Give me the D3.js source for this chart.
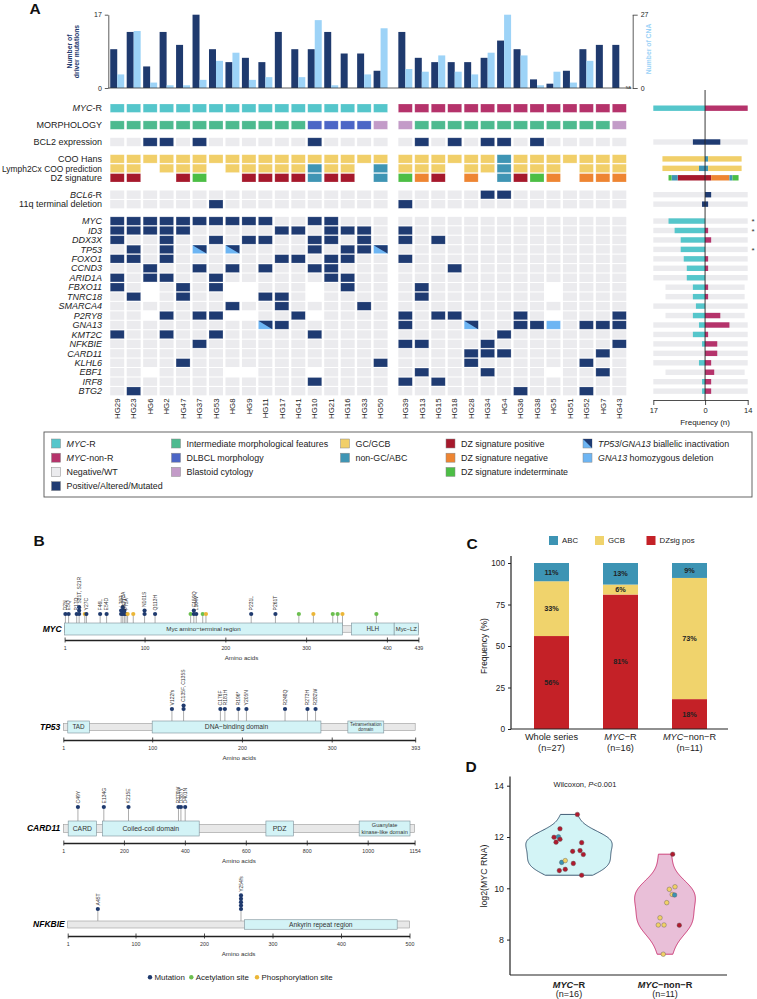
<!DOCTYPE html>
<html><head><meta charset="utf-8">
<script src="https://cdn.jsdelivr.net/npm/d3@7"></script>
<style>body{margin:0;background:#fff}svg{font-family:"Liberation Sans",Arial,Helvetica,sans-serif}</style>
</head><body><svg id="c" width="757" height="999"></svg>
<script>
// ================= DATA =================
const samplesMycR = ["HG29","HG23","HG6","HG2","HG47","HG37","HG53","HG8","HG9","HG11","HG17","HG41","HG10","HG21","HG16","HG33","HG50"];
const samplesMycNonR = ["HG39","HG13","HG15","HG18","HG28","HG34","HG4","HG36","HG38","HG5","HG51","HG52","HG7","HG43"];
const driverMutMycR = [9,13,5,13,10,17,9,6,7,6,13,9,9,13,8,8,4];
const cnaMycR = [5,21,2,1,1,3,10,13,3,4,0,4,25,1,0,5,22];
const driverMutMycNonR = [13,7,6,6,6,7,11,9,2,1,4,9,10,10];
const cnaMycNonR = [7,6,12,6,5,13,27,12,1,6,2,10,0,null];
const driverTicks = [0,17];
const cnaTicks = [0,27];

const rowLabels = ["*MYC*-R","MORPHOLOGY","BCL2 expression","COO Hans","Lymph2Cx COO prediction","DZ signature","*BCL6*-R","11q terminal deletion",
 "*MYC*","*ID3*","*DDX3X*","*TP53*","*FOXO1*","*CCND3*","*ARID1A*","*FBXO11*","*TNRC18*","*SMARCA4*","*P2RY8*","*GNA13*","*KMT2C*","*NFKBIE*","*CARD11*","*KLHL6*","*EBF1*","*IRF8*","*BTG2*"];
const rowBlocks = [0,1,2,3,3,3,4,4,5,5,5,5,5,5,5,5,5,5,5,5,5,5,5,5,5,5,5];
// codes: left group (MYC-R) | right group (MYC-non-R)
const rowCodes = [
 "RRRRRRRRRRRRRRRRR|NNNNNNNNNNNNNN",
 "IIIIIIIIIIIIDDDDB|BIIIIIIIIIIIIB",
 "00110100000010000|01010110100000",
 "GGGGGGGGGGGGGGGGG|GGGGGGAGGGGGGG",
 "GG-GGG-GGGGGAGG-A|GGG-GGAGGG-GGG",
 "PP--PZ--PPPPAPP-A|ZOP-O-APZO-OOO",
 "00000000000000000|00000110000000",
 "00000010000000000|10000000000000",
 "11111111110011000|00000000000000",
 "11111000001101110|10000000000000",
 "10010010110011010|10100000000000",
 "01010b0b00001011b|00000000000000",
 "11010000001101100|10000000000000",
 "00100101010011000|00010000000000",
 "10110010000001100|00000000000000",
 "10-0101--000-0100|010000000-0000",
 "01-0100--110-0000|010000000-0000",
 "00000001001000010|00000000000000",
 "00-1011--001-0000|101100010-0001",
 "000000000b1000000|1000b0011h0111",
 "10010010000010000|00000010000000",
 "00000100000000000|11000100000001",
 "00000000000000000|00001110000010",
 "00001000000000001|00001000000100",
 "00-0000--000-0000|010001000-0010",
 "00000000000010000|10100000000000",
 "01000000000000000|00000001000100"
];
const freqRowsNoBar = ["MORPHOLOGY"];
const catFreq = [
 ["COO Hans","L","G",14],["COO Hans","R","A",1],["COO Hans","R","G",11],
 ["Lymph2Cx COO prediction","L","A",2],["Lymph2Cx COO prediction","L","G",12],
 ["Lymph2Cx COO prediction","R","A",1],["Lymph2Cx COO prediction","R","G",11],
 ["DZ signature","L","P",9],["DZ signature","L","A",2],["DZ signature","L","Z",1],
 ["DZ signature","R","P",2],["DZ signature","R","O",6],["DZ signature","R","A",1],["DZ signature","R","Z",2]
];
const significantGenes = ["*MYC*","*ID3*","*TP53*"];
const freqTicks = [-17,0,14];

const legendLabels = ["*MYC*-R","*MYC*-non-R","Negative/WT","Positive/Altered/Mutated",
 "Intermediate morphological features","DLBCL morphology","Blastoid cytology",
 "GC/GCB","non-GC/ABC",
 "DZ signature positive","DZ signature negative","DZ signature indeterminate",
 "*TP53*/*GNA13* biallelic inactivation","*GNA13* homozygous deletion"];
const legendCodes = ["R","N","0","1","I","D","B","G","A","P","O","Z","b","h"];
const legendCols = [0,0,0,0,1,1,1,2,2,3,3,3,4,4];
const legendRowsIdx = [0,1,2,3,0,1,2,0,1,0,1,2,0,1];

// Panel B
const proteinNames = ["MYC","TP53","CARD11","NFKBIE"];
const proteinLengths = [439,393,1154,500];
const proteinTicks = [[1,100,200,300,400,439],[1,100,200,300,393],[1,200,400,600,800,1000,1154],[1,100,200,300,400,500]];
const domainList = [
 ["MYC",1,345,"Myc amino\u2212terminal region"],["MYC",356,409,"HLH"],["MYC",409,439,"Myc\u2212LZ"],
 ["TP53",6,30,"TAD"],["TP53",100,288,"DNA\u2212binding domain"],["TP53",318,358,"Tetramerisation|domain"],
 ["CARD11",17,110,"CARD"],["CARD11",129,447,"Coiled-coil domain"],["CARD11",666,756,"PDZ"],["CARD11",972,1139,"Guanylate|kinase-like domain"],
 ["NFKBIE",259,482,"Ankyrin repeat region"]
];
// [protein, aa, kind, label, count]
const lollipops = [
 ["MYC",2,"mut","D2N",1],["MYC",6,"mut","E5Q",1],["MYC",16,"mut","P17Q",1],["MYC",19,"mut","S21T, S21R",3],
 ["MYC",26,"phos","",1],["MYC",28,"mut","Y27C",1],["MYC",45,"mut","F46L",1],["MYC",53,"mut","E54D",1],
 ["MYC",71,"mut","L70P",2],["MYC",73,"mut","T73A",3],["MYC",75,"mut","S71F",2],["MYC",77,"mut","P75A",1],
 ["MYC",79,"phos","",1],["MYC",86,"phos","",1],["MYC",100,"mut","N101S",2],["MYC",113,"mut","Q113H",1],
 ["MYC",157,"acet","",1],["MYC",161,"mut","E159Q",2],["MYC",164,"mut","L164V",1],["MYC",172,"acet","",1],["MYC",176,"phos","",1],
 ["MYC",232,"mut","P231L",1],["MYC",262,"mut","P261T",1],["MYC",291,"acet","",1],["MYC",309,"phos","",1],
 ["MYC",333,"acet","",1],["MYC",339,"acet","",1],["MYC",345,"phos","",1],["MYC",387,"acet","",1],
 ["TP53",122,"mut","V122fs",1],["TP53",135,"mut","C135F, C135S",2],["TP53",176,"mut","C176F",1],["TP53",181,"mut","R181H",1],
 ["TP53",196,"mut","R196*",1],["TP53",205,"mut","Y205N",1],["TP53",248,"mut","R248Q",1],["TP53",273,"mut","R273H",1],["TP53",282,"mut","R282W",1],
 ["CARD11",49,"mut","C49Y",1],["CARD11",134,"mut","E134G",1],["CARD11",215,"mut","K215E",1],["CARD11",379,"mut","R379W",1],["CARD11",387,"mut","D387Y",1],["CARD11",401,"mut","D401N",1],
 ["NFKBIE",45,"mut","A45T",1],["NFKBIE",254,"mut","Y254fs",5]
];
const lolliLegend = [["mut","Mutation"],["acet","Acetylation site"],["phos","Phosphorylation site"]];

// Panel C
const cGroups = ["Whole series","*MYC*\u2212R","*MYC*\u2212non\u2212R"];
const cN = [27,16,11];
const cDZpos = [56,81,18];
const cGCB = [33,6,73];
const cABC = [11,13,9];
const cTicks = [0,25,50,75,100];

// Panel D
const dGroups = ["MYC-R","MYC-non-R"];
const dN = [16,11];
const dValuesR = [11.99,12.01,11.80,11.91,11.78,12.32,12.88,11.44,11.47,11.32,11.01,11.08,10.97,10.69,10.74,10.51];
const dCatR    = ["P","A","P","P","P","P","P","P","P","P","A","G","P","P","P","P"];
const dJitterR = [-0.156,-0.11,-0.135,-0.094,0.132,-0.094,0.087,0.038,0.115,0.149,-0.076,-0.039,0.045,-0.101,-0.039,0.132];
const dValuesN = [11.33,10.06,9.96,9.76,9.74,9.44,8.85,8.57,8.57,8.56,7.43];
const dCatN    = ["P","G","G","G","A","G","G","G","G","P","G"];
const dJitterN = [0.08,0.104,0.045,0.075,0.1,0.018,-0.052,-0.07,-0.01,0.149,-0.018];
const dTicks = [8,10,12,14];

// ================= STYLE =================
const col = {R:"#55c6cb",N:"#b5336b",I:"#4dba8f",D:"#4c66c6",B:"#c39bc8","0":"#ebebee","1":"#1f3b72",
  G:"#f1cf69",A:"#3f95b4",P:"#a6192c",O:"#ee8532",Z:"#4cbe45",h:"#6db5f3",b:"#6db5f3"};
const navy="#1f3a6e", lightBlue="#9dd3f7";
const svg = d3.select("#c");
function rich(t, str){ str.split("*").forEach((p,i)=>{ if(p) t.append("tspan").attr("font-style", i%2? "italic":null).text(p); }); return t; }
function panelLetter(x,y,s){ svg.append("text").attr("x",x).attr("y",y).attr("font-size",15.5).attr("font-weight","bold").attr("fill","#111").text(s); }

// ================= PANEL A =================
panelLetter(29.5,13.8,"A");

const step = 16.46;
const xL = d3.scaleBand().domain(samplesMycR).range([109, 109+17*step]).paddingInner(0.15).paddingOuter(0.075);
const xR = d3.scaleBand().domain(samplesMycNonR).range([397.1, 397.1+14*step]).paddingInner(0.15).paddingOuter(0.075);
const bw = xL.bandwidth();
const yDrv = d3.scaleLinear().domain([0,17]).range([88,14.7]);
const yCna = d3.scaleLinear().domain([0,27]).range([88,14.7]);

const barG = svg.append("g");
function drawBars(samples, xs, drv, cna){
  barG.selectAll(null).data(samples).join("rect")
    .attr("x",d=>xs(d)).attr("width",bw/2).attr("y",(d,i)=>yDrv(drv[i])).attr("height",(d,i)=>yDrv(0)-yDrv(drv[i])).attr("fill",navy);
  barG.selectAll(null).data(samples.filter((d,i)=>cna[i]!=null)).join("rect")
    .attr("x",d=>xs(d)+bw/2).attr("width",bw/2).attr("y",d=>yCna(cna[samples.indexOf(d)])).attr("height",d=>yCna(0)-yCna(cna[samples.indexOf(d)])).attr("fill",lightBlue);
}
drawBars(samplesMycR,xL,driverMutMycR,cnaMycR);
drawBars(samplesMycNonR,xR,driverMutMycNonR,cnaMycNonR);
const lastS = samplesMycNonR[samplesMycNonR.length-1];
svg.append("line").attr("x1",108.3).attr("x2",xR(lastS)+bw+5).attr("y1",yDrv(0)).attr("y2",yDrv(0)).attr("stroke","#333").attr("stroke-width",0.8);
svg.append("text").attr("x",xR(lastS)+bw-0.5).attr("y",yDrv(0)+0.5).attr("font-size",3.8).attr("fill","#333").text("NA");

const axL = svg.append("g").attr("transform","translate(108.3,0)").call(d3.axisLeft(yDrv).tickValues(driverTicks).tickSize(3.5).tickSizeOuter(0));
const axR = svg.append("g").attr("transform","translate(632.7,0)").call(d3.axisRight(yCna).tickValues(cnaTicks).tickSize(5).tickSizeOuter(0));
[axL,axR].forEach(a=>{a.selectAll("text").attr("font-size",7).attr("font-family","inherit").attr("fill","#222"); a.selectAll("path,line").attr("stroke","#333").attr("stroke-width",0.8);});
const lblL = svg.append("text").attr("transform","translate(72,51.5) rotate(-90)").attr("text-anchor","middle").attr("font-size",6.8).attr("font-weight","bold").attr("fill",navy);
lblL.append("tspan").attr("x",0).attr("dy",0).text("Number of");
lblL.append("tspan").attr("x",0).attr("dy",7).text("driver mutations");
svg.append("text").attr("transform","translate(650.5,49) rotate(-90)").attr("text-anchor","middle").attr("font-size",6.8).attr("font-weight","bold").attr("fill",lightBlue).text("Number of CNA");

// rows
const yIdx = d3.scaleLinear().domain([0,1]).range([104,104+9.45]);
const yBlk = d3.scaleLinear().domain([0,1]).range([0,7.45]);
const cellH = 8.4;
const rowY = i => yIdx(i)+yBlk(rowBlocks[i]);

const cellG = svg.append("g");
rowCodes.forEach((codes,ri)=>{
  const [l,r] = codes.split("|");
  const cells = [];
  l.split("").forEach((c,j)=>cells.push({s:samplesMycR[j],x:xL(samplesMycR[j]),c}));
  r.split("").forEach((c,j)=>cells.push({s:samplesMycNonR[j],x:xR(samplesMycNonR[j]),c}));
  const y = rowY(ri);
  cells.filter(d=>d.c!=="-").forEach(d=>{
    cellG.append("rect").attr("x",d.x).attr("y",y).attr("width",bw).attr("height",cellH).attr("fill",col[d.c])
      .attr("stroke", d.c==="0"?"none":"#ffffff").attr("stroke-opacity",0.35).attr("stroke-width",0.6);
    if(d.c==="b"){
      cellG.append("path").attr("d",`M${d.x},${y}L${d.x+bw},${y}L${d.x+bw},${y+cellH}Z`).attr("fill",col["1"]);
    }
  });
  const t = svg.append("text").attr("x",102).attr("y",y+cellH/2).attr("dy","0.35em").attr("text-anchor","end").attr("font-size",9).attr("fill","#222");
  rich(t,rowLabels[ri]);
  const len = t.node().getComputedTextLength();
  if(len>100) t.attr("textLength",100).attr("lengthAdjust","spacingAndGlyphs");
});

// sample labels
const sl = svg.append("g").attr("font-size",7.8).attr("fill","#222");
samplesMycR.forEach(s=>sl.append("text").attr("transform",`translate(${xL(s)+bw/2},398.5) rotate(-90)`).attr("text-anchor","end").attr("dy","0.35em").text(s));
samplesMycNonR.forEach(s=>sl.append("text").attr("transform",`translate(${xR(s)+bw/2},398.5) rotate(-90)`).attr("text-anchor","end").attr("dy","0.35em").text(s));

// frequency panel
const fx = d3.scaleLinear().domain([-17,14]).range([653.3,747.7]);
const fh = 5.4;
const freqG = svg.append("g");
rowCodes.forEach((codes,ri)=>{
  const lab = rowLabels[ri];
  if(freqRowsNoBar.includes(lab)) return;
  const y = rowY(ri)+cellH/2-fh/2;
  const cats = catFreq.filter(d=>d[0]===lab);
  if(cats.length){
    let accL=0, accR=0;
    cats.forEach(d=>{
      if(d[1]==="L"){ freqG.append("rect").attr("x",fx(-accL-d[3])).attr("width",fx(-accL)-fx(-accL-d[3])).attr("y",y).attr("height",fh).attr("fill",col[d[2]]); accL+=d[3]; }
      else { freqG.append("rect").attr("x",fx(accR)).attr("width",fx(accR+d[3])-fx(accR)).attr("y",y).attr("height",fh).attr("fill",col[d[2]]); accR+=d[3]; }
    });
    return;
  }
  const [l,r] = codes.split("|");
  if(ri===0){
    freqG.append("rect").attr("x",fx(-l.split("").filter(c=>c==="R").length)).attr("width",fx(0)-fx(-l.length)).attr("y",y).attr("height",fh).attr("fill",col.R);
    freqG.append("rect").attr("x",fx(0)).attr("width",fx(r.split("").filter(c=>c==="N").length)-fx(0)).attr("y",y).attr("height",fh).attr("fill",col.N);
    return;
  }
  const evL = l.split("").filter(c=>c!=="-").length, evR = r.split("").filter(c=>c!=="-").length;
  const pL = l.split("").filter(c=>"1bh".includes(c)).length, pR = r.split("").filter(c=>"1bh".includes(c)).length;
  freqG.append("rect").attr("x",fx(-evL)).attr("width",fx(evR)-fx(-evL)).attr("y",y).attr("height",fh).attr("fill","#ebebee");
  const isGene = rowBlocks[ri]===5;
  freqG.append("rect").attr("x",fx(-pL)).attr("width",fx(0)-fx(-pL)).attr("y",y).attr("height",fh).attr("fill",isGene?col.R:col["1"]);
  freqG.append("rect").attr("x",fx(0)).attr("width",fx(pR)-fx(0)).attr("y",y).attr("height",fh).attr("fill",isGene?col.N:col["1"]);
  if(significantGenes.includes(lab)) svg.append("text").attr("x",753).attr("y",y+fh/2+3.2).attr("text-anchor","middle").attr("font-size",8).attr("fill","#333").text("*");
});
svg.append("line").attr("x1",fx(0)).attr("x2",fx(0)).attr("y1",90).attr("y2",400).attr("stroke","#222").attr("stroke-width",0.9);
const fax = svg.append("g").attr("transform","translate(0,400)").call(d3.axisBottom(fx).tickValues(freqTicks).tickFormat(d=>Math.abs(d)).tickSize(5).tickSizeOuter(0));
fax.selectAll("text").attr("font-size",7.5).attr("font-family","inherit").attr("fill","#222");
fax.selectAll("path,line").attr("stroke","#222").attr("stroke-width",0.8);
svg.append("text").attr("x",fx(0)).attr("y",424.5).attr("text-anchor","middle").attr("font-size",8).attr("fill","#222").text("Frequency (n)");

// legend
svg.append("rect").attr("x",44).attr("y",432).attr("width",708).attr("height",65).attr("fill","none").attr("stroke","#555").attr("stroke-width",0.9);
const legColX = [56,176,345,450.5,587.5];
const legRowY = d3.scaleLinear().domain([0,1]).range([443.5,457.7]);
legendLabels.forEach((lab,i)=>{
  const x = legColX[legendCols[i]], y = legRowY(legendRowsIdx[i]);
  const c = legendCodes[i];
  svg.append("rect").attr("x",x-4.5).attr("y",y-4.5).attr("width",9).attr("height",9).attr("fill",col[c]).attr("stroke","#888").attr("stroke-width",0.5);
  if(c==="b") svg.append("path").attr("d",`M${x-4.5},${y-4.5}L${x+4.5},${y-4.5}L${x+4.5},${y+4.5}Z`).attr("fill",col["1"]);
  const t = svg.append("text").attr("x",x+10.5).attr("y",y).attr("dy","0.35em").attr("font-size",8.9).attr("fill","#222");
  rich(t,lab);
});

// ================= PANEL B =================
panelLetter(33.5,545.5,"B");
const protY = [629,727,828.5,924.5];
const protBoxH = [12,12,15,9.5];
const protBackH = [6.5,7,8,7];
const protAxisY = [640,740,843,936];
const protHeadY = [614,709,807,909];
const protXR = [[64.6,418.4],[63.3,415.2],[63.3,414.6],[67.7,409.5]];
const domFont = {"Myc amino\u2212terminal region":6.2,"HLH":6.3,"Myc\u2212LZ":5.9,"TAD":6.3,"DNA\u2212binding domain":6.7,"Tetramerisation|domain":4.6,"CARD":6.8,"Coiled-coil domain":6.9,"PDZ":7,"Guanylate|kinase-like domain":5.6,"Ankyrin repeat region":6.7};
const kindCol = {mut:"#1f3a6e",acet:"#6cbf4f",phos:"#ebb637"};
const protScales = proteinNames.map((p,i)=>d3.scaleLinear().domain([1,proteinLengths[i]]).range(protXR[i]));
proteinNames.forEach((p,i)=>{
  const xs = protScales[i], cy = protY[i];
  const g = svg.append("g");
  lollipops.filter(d=>d[0]===p).forEach(d=>{
    const x = xs(d[1]);
    const top = protHeadY[i]-(d[4]-1)*3.4;
    g.append("line").attr("x1",x).attr("x2",x).attr("y1",cy-protBackH[i]/2).attr("y2",top).attr("stroke","#8a8a8a").attr("stroke-width",0.7);
    d3.range(d[4]).forEach(k=>g.append("circle").attr("cx",x).attr("cy",protHeadY[i]-k*3.4).attr("r",2.1).attr("fill",kindCol[d[2]]));
    if(d[3]) g.append("text").attr("transform",`translate(${x},${top-3.6}) rotate(-90)`).attr("dy","0.35em").attr("font-size",5).attr("fill","#333").text(d[3]);
  });
  g.append("rect").attr("x",xs(1)).attr("width",xs(proteinLengths[i])-xs(1)).attr("y",cy-protBackH[i]/2).attr("height",protBackH[i]).attr("fill","#e8e8e8").attr("stroke","#9a9a9a").attr("stroke-width",0.6);
  domainList.filter(d=>d[0]===p).forEach(d=>{
    g.append("rect").attr("x",xs(d[1])).attr("width",xs(d[2])-xs(d[1])).attr("y",cy-protBoxH[i]/2).attr("height",protBoxH[i]).attr("fill","#d3f3f6").attr("stroke","#7d9099").attr("stroke-width",0.6);
    const lines = d[3].split("|"), fs = domFont[d[3]];
    const t = g.append("text").attr("x",(xs(d[1])+xs(d[2]))/2).attr("y",cy).attr("text-anchor","middle").attr("font-size",fs).attr("fill","#333");
    lines.forEach((ln,k)=>t.append("tspan").attr("x",(xs(d[1])+xs(d[2]))/2).attr("dy",k===0?((-(lines.length-1)/2*1.1)+0.35)+"em":"1.1em").text(ln));
  });
  g.append("text").attr("x",xs(1)-3).attr("y",cy).attr("dy","0.35em").attr("text-anchor","end").attr("font-size",8.5).attr("font-weight","bold").attr("font-style","italic").text(p);
  const ax = g.append("g").attr("transform",`translate(0,${protAxisY[i]})`).call(d3.axisBottom(xs).tickValues(proteinTicks[i]).tickFormat(d3.format("d")).tickSize(3).tickSizeOuter(0));
  ax.select(".domain").attr("stroke","#222").attr("stroke-width",1.4);
  ax.selectAll("line").attr("stroke","#222").attr("stroke-width",0.8).attr("y1",-2.5).attr("y2",2.5);
  ax.selectAll("text").attr("font-size",5.3).attr("font-family","inherit").attr("fill","#333").attr("y",6);
  g.append("text").attr("x",(xs(1)+xs(proteinLengths[i]))/2).attr("y",protAxisY[i]+20).attr("text-anchor","middle").attr("font-size",6.2).attr("fill","#333").text("Amino acids");
});
const llX = [150,191.3,257];
lolliLegend.forEach((d,i)=>{
  svg.append("circle").attr("cx",llX[i]).attr("cy",977.3).attr("r",2.2).attr("fill",kindCol[d[0]]);
  svg.append("text").attr("x",llX[i]+4.5).attr("y",977.3).attr("dy","0.35em").attr("font-size",7.9).attr("fill","#222").text(d[1]);
});

// ================= PANEL C =================
panelLetter(466.5,548.5,"C");
const xC = d3.scaleBand().domain(cGroups).range([517,724]).paddingInner(0.493).paddingOuter(0.2465);
const yC = d3.scaleLinear().domain([0,100]).range([729,563]);
const cG = svg.append("g");
cGroups.forEach((g,i)=>{
  const segs = [[0,cDZpos[i],"P"],[cDZpos[i],cDZpos[i]+cGCB[i],"G"],[cDZpos[i]+cGCB[i],cDZpos[i]+cGCB[i]+cABC[i],"A"]];
  const vals = [cDZpos[i],cGCB[i],cABC[i]];
  const cc = {P:"#c42127",G:"#f0d36c",A:"#3d94b4"};
  segs.forEach((s,k)=>{
    cG.append("rect").attr("x",xC(g)).attr("width",xC.bandwidth()).attr("y",yC(s[1])).attr("height",yC(s[0])-yC(s[1])).attr("fill",cc[s[2]]);
    cG.append("text").attr("x",xC(g)+xC.bandwidth()/2).attr("y",(yC(s[0])+yC(s[1]))/2).attr("dy","0.35em").attr("text-anchor","middle").attr("font-size",7.3).attr("font-weight","bold").attr("fill","#222").text(vals[k]+"%");
  });
  const t = svg.append("text").attr("x",xC(g)+xC.bandwidth()/2).attr("y",740).attr("text-anchor","middle").attr("font-size",9.2).attr("fill","#222");
  rich(t,g);
  svg.append("text").attr("x",xC(g)+xC.bandwidth()/2).attr("y",750.8).attr("text-anchor","middle").attr("font-size",9.2).attr("fill","#222").text(`(n=${cN[i]})`);
});
const cay = svg.append("g").attr("transform","translate(511,0)").call(d3.axisLeft(yC).tickValues(cTicks).tickSize(3).tickSizeOuter(0));
cay.selectAll("text").attr("font-size",8.3).attr("font-family","inherit").attr("fill","#222");
cay.selectAll("line").attr("stroke","#222");
cay.select(".domain").attr("d","M0,556V729").attr("stroke","#222").attr("stroke-width",1.2);
svg.append("line").attr("x1",511).attr("x2",728).attr("y1",729).attr("y2",729).attr("stroke","#222").attr("stroke-width",1.2);
svg.append("text").attr("transform","translate(487,646) rotate(-90)").attr("text-anchor","middle").attr("font-size",8.5).attr("fill","#222").text("Frequency (%)");
const cLegX = [549,595,646.5], cLegLab = ["ABC","GCB","DZsig pos"], cLegCol = ["#3d94b4","#f0d36c","#c42127"];
cLegLab.forEach((l,i)=>{
  svg.append("rect").attr("x",cLegX[i]).attr("y",536).attr("width",9).attr("height",9).attr("fill",cLegCol[i]);
  svg.append("text").attr("x",cLegX[i]+13).attr("y",540.5).attr("dy","0.35em").attr("font-size",7.8).attr("fill","#222").text(l);
});

// ================= PANEL D =================
panelLetter(465.5,771.5,"D");
const xD = d3.scalePoint().domain(dGroups).range([521,713]).padding(0.5);
const dStep = xD.step();
const yD = d3.scaleLinear().domain([10,12]).range([888.3,837]);
function kde(vals){
  const n = vals.length, sd = d3.deviation(vals);
  const s = vals.slice().sort(d3.ascending);
  const iqr = d3.quantile(s,0.75)-d3.quantile(s,0.25);
  const bwid = 0.9*Math.min(sd, iqr/1.34)*Math.pow(n,-0.2);
  const lo = d3.min(vals), hi = d3.max(vals);
  return d3.range(0,101).map(k=>{const y=lo+(hi-lo)*k/100; return [y, d3.mean(vals,v=>Math.exp(-0.5*((y-v)/bwid)**2)/(bwid*Math.sqrt(2*Math.PI)))];});
}
const densR = kde(dValuesR), densN = kde(dValuesN);
const maxDens = Math.max(d3.max(densR,d=>d[1]), d3.max(densN,d=>d[1]));
const wScale = d3.scaleLinear().domain([0,maxDens]).range([0,0.45*dStep]);
[[densR,"MYC-R","#d3f4f6","#2c4b66"],[densN,"MYC-non-R","#e9bfd8","#c8306e"]].forEach(([dens,g,fill,stroke])=>{
  const cx = xD(g);
  const area = d3.area().y(d=>yD(d[0])).x0(d=>cx-wScale(d[1])).x1(d=>cx+wScale(d[1])).curve(d3.curveBasis);
  svg.append("path").attr("d",area(dens)).attr("fill",fill).attr("stroke",stroke).attr("stroke-width",0.9);
});
const ptCol = {P:"#b01a2e",A:"#3a93b3",G:"#f1d166"};
[[dValuesR,dCatR,dJitterR,"MYC-R"],[dValuesN,dCatN,dJitterN,"MYC-non-R"]].forEach(([vals,cats,jit,g])=>{
  vals.forEach((v,i)=>svg.append("circle").attr("cx",xD(g)+jit[i]*dStep).attr("cy",yD(v)).attr("r",2.3).attr("fill",ptCol[cats[i]]).attr("stroke","#555").attr("stroke-width",0.4));
});
const day = svg.append("g").attr("transform","translate(510,0)").call(d3.axisLeft(yD).tickValues(dTicks).tickFormat(d3.format("d")).tickSize(3).tickSizeOuter(0));
day.selectAll("text").attr("font-size",8.8).attr("font-family","inherit").attr("fill","#222");
day.selectAll("line").attr("stroke","#222");
day.select(".domain").attr("d","M0,776.5V975").attr("stroke","#222").attr("stroke-width",1.2);
svg.append("line").attr("x1",510).attr("x2",727).attr("y1",975).attr("y2",975).attr("stroke","#222").attr("stroke-width",1.2);
svg.append("text").attr("transform","translate(487,876) rotate(-90)").attr("text-anchor","middle").attr("font-size",8.8).attr("fill","#222").text("log2(MYC RNA)");
const wt = svg.append("text").attr("x",585).attr("y",784).attr("dy","0.35em").attr("text-anchor","middle").attr("font-size",7.5).attr("fill","#222");
wt.append("tspan").text("Wilcoxon, ");wt.append("tspan").attr("font-style","italic").text("P");wt.append("tspan").text("<0.001");
dGroups.forEach((g,i)=>{
  const t = svg.append("text").attr("x",xD(g)).attr("y",987.5).attr("text-anchor","middle").attr("font-size",9.2).attr("font-weight","bold").attr("fill","#222");
  rich(t, g==="MYC-R" ? "*MYC*\u2212R" : "*MYC*\u2212non\u2212R");
  svg.append("text").attr("x",xD(g)).attr("y",997).attr("text-anchor","middle").attr("font-size",9).attr("fill","#222").text(`(n=${dN[i]})`);
});
</script></body></html>
